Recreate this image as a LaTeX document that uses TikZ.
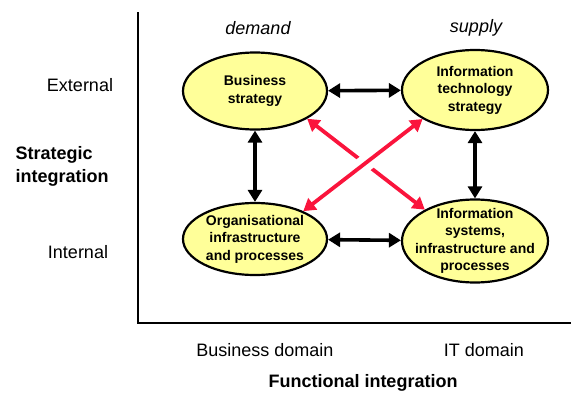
\documentclass[tikz,border=0pt]{standalone}
\usepackage{fontspec}
\setmainfont{Liberation Sans}
\usetikzlibrary{shapes.geometric,arrows.meta,calc}
\definecolor{paleyellow}{RGB}{255,255,153}
\definecolor{alignred}{RGB}{250,20,60}
\tikzset{
  quadrant/.style={ellipse, draw, line width=2.2pt, fill=paleyellow, inner sep=0pt},
  quadranttext/.style={align=center, font=\bfseries\fontsize{14}{17.5}\selectfont},
  axislabel/.style={font=\fontsize{18}{22}\selectfont},
  link/.style={line width=3.6pt, {Triangle[length=12pt,width=14pt]}-{Triangle[length=12pt,width=14pt]}},
  crosslink/.style={alignred, line width=3.8pt, {Triangle[length=12pt,width=14pt]}-{Triangle[length=12pt,width=14pt]}},
}

\begin{document}
\begin{tikzpicture}[x=1pt, y=-1pt]
        \useasboundingbox (0,0) rectangle (571,394);
        % axes
        \coordinate (ytop) at (138,12);
        \coordinate (orig) at (138,323);
        \coordinate (xend) at (571,323);
        \draw[line width=1.6pt] (ytop) -- (orig) -- (xend);

        % the four quadrants
        \node (bs) [quadrant, minimum width=144pt, minimum height=77pt] at (255,91) {};
        \node (it) [quadrant, minimum width=146pt, minimum height=80pt] at (475,90) {};
        \node (org) [quadrant, minimum width=144pt, minimum height=72pt] at (255,239) {};
        \node (is) [quadrant, minimum width=146pt, minimum height=83pt] at (475,241) {};
        \node (bstext) [quadranttext] at (bs) {Business\\strategy};
        \node (ittext) [quadranttext] at (it) {Information\\technology\\strategy};
        \node (orgtext) [quadranttext] at (org) {Organisational\\infrastructure\\and processes};
        \node (istext) [quadranttext] at (is) {Information\\systems,\\infrastructure and\\processes};

        % axis labels
        \node (demand) [axislabel, font=\itshape\fontsize{18}{22}\selectfont] at (258,28) {demand};
        \node (supply) [axislabel, font=\itshape\fontsize{18}{22}\selectfont] at (476,28) {supply};
        \node (ext) [axislabel] at (80,85) {External};
        \node (int) [axislabel] at (78,252) {Internal};
        \node (strat) [axislabel, font=\bfseries\fontsize{18}{23}\selectfont, align=left, anchor=west] at (12,166) {Strategic\\integration};
        \node (bdom) [axislabel] at (265,350) {Business domain};
        \node (itdom) [axislabel] at (484,350) {IT domain};
        \node (func) [axislabel, font=\bfseries\fontsize{18}{22}\selectfont] at (363,383) {Functional integration};

        % alignment links
        \draw (bs) edge [link] (it);
        \draw (org) edge [link] (is);
        \draw (bs) edge [link] (org);
        \draw (it) edge [link] (is);

        % cross-quadrant links
        \draw[crosslink] (bs.-28) -- (is.148);
        \draw[white, line width=17pt] ($(org.30)!0.44!(it.-151)$) -- ($(org.30)!0.56!(it.-151)$);
        \draw[crosslink] (org.30) -- (it.-151);
\end{tikzpicture}
\end{document}
